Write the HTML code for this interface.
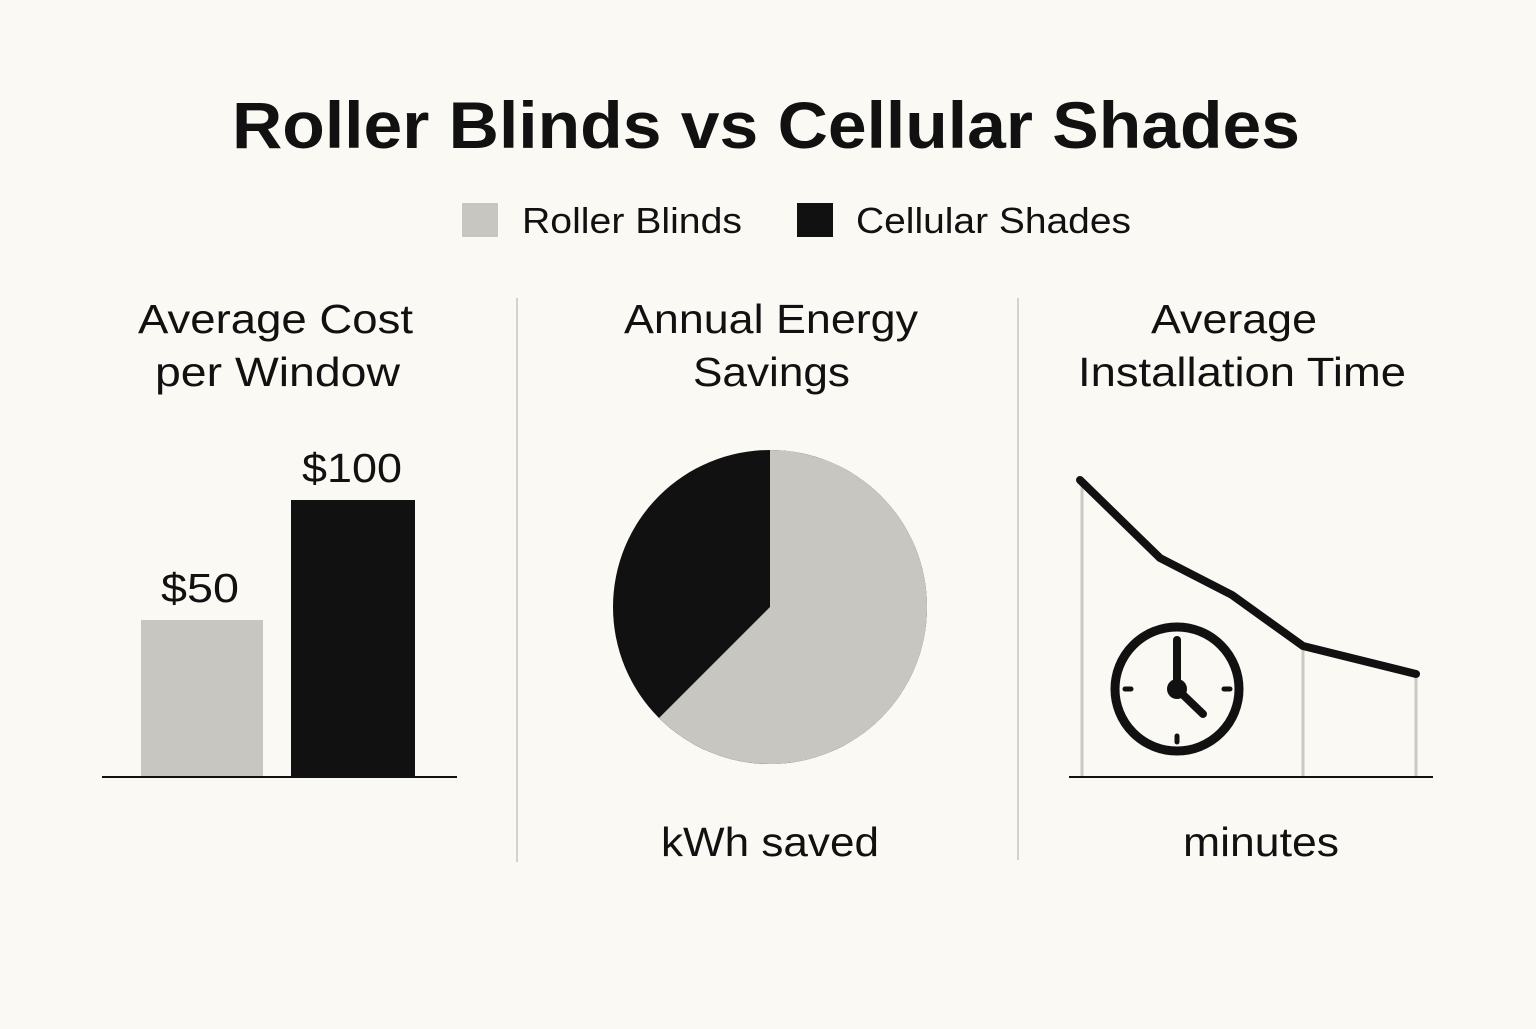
<!DOCTYPE html>
<html><head><style>
body{margin:0;width:1536px;height:1024px;background:#fbf9f4;font-family:"Liberation Sans",sans-serif;overflow:hidden}
</style></head><body>
<svg width="1536" height="1024" xmlns="http://www.w3.org/2000/svg" font-family="Liberation Sans, sans-serif" fill="#111">
<rect width="1536" height="1024" fill="#fbf9f4"/>
<text x="232" y="148" font-size="66" font-weight="bold" textLength="1068" lengthAdjust="spacingAndGlyphs">Roller Blinds vs Cellular Shades</text>
<rect x="462" y="203" width="36" height="34" fill="#c8c6c1"/>
<text x="522" y="233" font-size="36" textLength="220" lengthAdjust="spacingAndGlyphs">Roller Blinds</text>
<rect x="797" y="203" width="36" height="34" fill="#111"/>
<text x="856" y="233" font-size="36" textLength="275" lengthAdjust="spacingAndGlyphs">Cellular Shades</text>
<line x1="517" y1="298" x2="517" y2="862" stroke="#d4d2cc" stroke-width="2"/>
<line x1="1018" y1="298" x2="1018" y2="860" stroke="#d4d2cc" stroke-width="2"/>
<g font-size="41" lengthAdjust="spacingAndGlyphs">
<text x="138" y="333" textLength="275" lengthAdjust="spacingAndGlyphs">Average Cost</text>
<text x="155" y="386" textLength="245" lengthAdjust="spacingAndGlyphs">per Window</text>
<text x="624" y="333" textLength="294" lengthAdjust="spacingAndGlyphs">Annual Energy</text>
<text x="693" y="386" textLength="157" lengthAdjust="spacingAndGlyphs">Savings</text>
<text x="1151" y="333" textLength="166" lengthAdjust="spacingAndGlyphs">Average</text>
<text x="1078" y="386" textLength="328" lengthAdjust="spacingAndGlyphs">Installation Time</text>
<text x="661" y="856" textLength="218" lengthAdjust="spacingAndGlyphs">kWh saved</text>
<text x="1183" y="856" textLength="156" lengthAdjust="spacingAndGlyphs">minutes</text>
<text x="161" y="602" textLength="78" lengthAdjust="spacingAndGlyphs">$50</text>
<text x="302" y="482" textLength="100" lengthAdjust="spacingAndGlyphs">$100</text>
</g>
<rect x="141" y="620" width="122" height="157" fill="#c8c6c1"/>
<rect x="291" y="500" width="124" height="277" fill="#111"/>
<line x1="102" y1="777" x2="457" y2="777" stroke="#111" stroke-width="2"/>
<circle cx="770" cy="607" r="157" fill="#111"/>
<path d="M770,607 L770,450 A157,157 0 1 1 659,718 Z" fill="#c8c6c1"/>
<g stroke="#ccc9c3" stroke-width="3">
<line x1="1082" y1="485" x2="1082" y2="776"/>
<line x1="1303" y1="650" x2="1303" y2="776"/>
<line x1="1416" y1="678" x2="1416" y2="776"/>
</g>
<line x1="1069" y1="777" x2="1433" y2="777" stroke="#111" stroke-width="2"/>
<polyline points="1080,480 1160,558 1232,595 1303,646 1416,674" fill="none" stroke="#111" stroke-width="8" stroke-linecap="round" stroke-linejoin="round"/>
<circle cx="1177" cy="689" r="62" fill="none" stroke="#111" stroke-width="9"/>
<g stroke="#111" stroke-width="5" stroke-linecap="round">
<line x1="1177" y1="640" x2="1177" y2="689" stroke-width="8"/>
<line x1="1177" y1="689" x2="1203" y2="714" stroke-width="8"/>
<line x1="1125" y1="689" x2="1131" y2="689"/>
<line x1="1224" y1="689" x2="1230" y2="689"/>
<line x1="1177" y1="736" x2="1177" y2="742"/>
</g>
<circle cx="1177" cy="689" r="10" fill="#111"/>
</svg>
</body></html>
